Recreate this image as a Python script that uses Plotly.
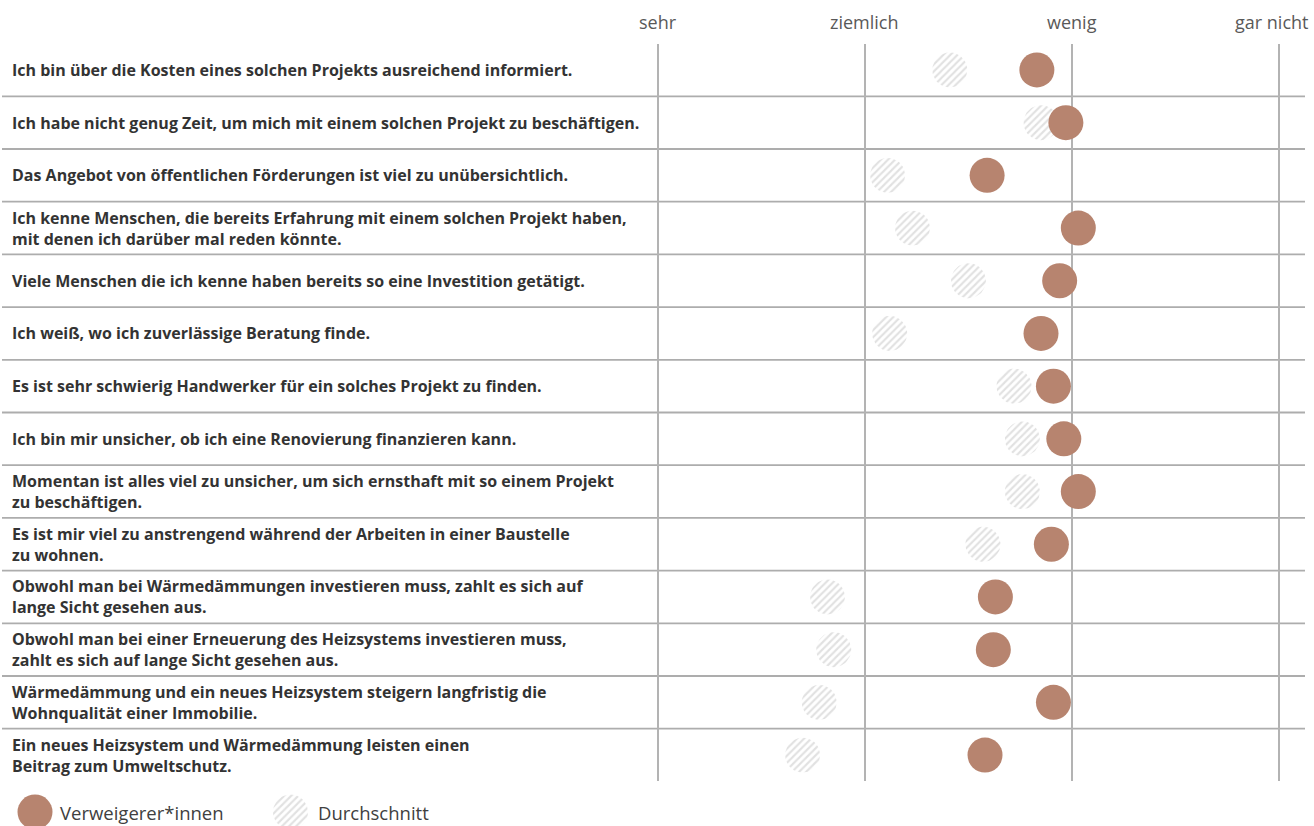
import math
import plotly.graph_objects as go

# ---------------- data ----------------
statements = [
    "Ich bin über die Kosten eines solchen Projekts ausreichend informiert.",
    "Ich habe nicht genug Zeit, um mich mit einem solchen Projekt zu beschäftigen.",
    "Das Angebot von öffentlichen Förderungen ist viel zu unübersichtlich.",
    "Ich kenne Menschen, die bereits Erfahrung mit einem solchen Projekt haben,<br>mit denen ich darüber mal reden könnte.",
    "Viele Menschen die ich kenne haben bereits so eine Investition getätigt.",
    "Ich weiß, wo ich zuverlässige Beratung finde.",
    "Es ist sehr schwierig Handwerker für ein solches Projekt zu finden.",
    "Ich bin mir unsicher, ob ich eine Renovierung finanzieren kann.",
    "Momentan ist alles viel zu unsicher, um sich ernsthaft mit so einem Projekt<br>zu beschäftigen.",
    "Es ist mir viel zu anstrengend während der Arbeiten in einer Baustelle<br>zu wohnen.",
    "Obwohl man bei Wärmedämmungen investieren muss, zahlt es sich auf<br>lange Sicht gesehen aus.",
    "Obwohl man bei einer Erneuerung des Heizsystems investieren muss,<br>zahlt es sich auf lange Sicht gesehen aus.",
    "Wärmedämmung und ein neues Heizsystem steigern langfristig die<br>Wohnqualität einer Immobilie.",
    "Ein neues Heizsystem und Wärmedämmung leisten einen<br>Beitrag zum Umweltschutz.",
]
verweigerer = [2.83, 2.97, 2.59, 3.03, 2.94, 2.85, 2.91, 2.96, 3.03, 2.90, 2.63, 2.62, 2.91, 2.58]
durchschnitt = [2.41, 2.85, 2.11, 2.23, 2.50, 2.12, 2.72, 2.76, 2.76, 2.57, 1.82, 1.85, 1.78, 1.70]
scale_vals = [1, 2, 3, 4]
scale_labels = ["sehr", "ziemlich", "wenig", "gar nicht"]
series_names = ["Verweigerer*innen", "Durchschnitt"]

# ---------------- styling ----------------
W, H = 1314, 826
BROWN = "#B7846F"
HATCH = "#c4c4c4"
GRID = "#b3b3b3"
FONT = "Open Sans"
PX_PER_UNIT = 207.3
X_SEHR_PX = 657.5
MARK_D = 35  # marker diameter in px
ROW_TOP_PX, ROW_BOTTOM_PX = 43.6, 781.4
LEG_Y_PX = 812
TICK_Y_PX = 22

n = len(statements)
rows = list(range(n))
x_left = scale_vals[0] - X_SEHR_PX / PX_PER_UNIT
x_right = x_left + W / PX_PER_UNIT
row_px = (ROW_BOTTOM_PX - ROW_TOP_PX) / n
rx = (MARK_D / 2) / PX_PER_UNIT
ry = (MARK_D / 2) / row_px

pattern = dict(shape="/", fgcolor=HATCH, bgcolor="white", size=5, solidity=0.42)
angles = [2 * math.pi * k / 60 for k in range(61)]


def circle_outlines(cx_list, cy_list, rx_, ry_):
    xs, ys = [], []
    for cx, cy in zip(cx_list, cy_list):
        xs += [cx + rx_ * math.cos(a) for a in angles] + [None]
        ys += [cy + ry_ * math.sin(a) for a in angles] + [None]
    return xs, ys


fig = go.Figure()

# hatched "Durchschnitt" discs
hx, hy = circle_outlines(durchschnitt, rows, rx, ry)
fig.add_trace(go.Scatter(
    x=hx, y=hy, mode="lines", fill="toself", fillcolor="white", fillpattern=pattern,
    line=dict(width=0), name=series_names[1],
    hoverinfo="skip", showlegend=False,
))

# brown "Verweigerer*innen" markers
fig.add_trace(go.Scatter(
    x=verweigerer, y=rows, mode="markers", name=series_names[0],
    marker=dict(size=MARK_D, color=BROWN, line=dict(width=0)),
    cliponaxis=False, showlegend=False, hoverinfo="skip",
))

# ---- custom legend on a helper axis (pixel units) ----
leg_x = [35, 290.5]
fig.add_trace(go.Scatter(
    x=[leg_x[0]], y=[0], mode="markers", xaxis="x2", yaxis="y2",
    marker=dict(size=MARK_D, color=BROWN, line=dict(width=0)),
    cliponaxis=False, showlegend=False, hoverinfo="skip",
))
lx, ly = circle_outlines([leg_x[1]], [0], MARK_D / 2, MARK_D / 2)
fig.add_trace(go.Scatter(
    x=lx, y=ly, mode="lines", fill="toself", fillcolor="white", fillpattern=pattern,
    line=dict(width=0), xaxis="x2", yaxis="y2",
    cliponaxis=False, hoverinfo="skip", showlegend=False,
))

annotations = []
# scale labels above the grid
for k, (v, lab) in enumerate(zip(scale_vals, scale_labels)):
    annotations.append(dict(
        x=v, xref="x", y=(H - TICK_Y_PX) / H, yref="paper", text=lab, showarrow=False,
        xanchor="center", yanchor="middle",
        xshift=-8 if k == len(scale_vals) - 1 else 0,
        font=dict(family=FONT, size=18, color="#595959"),
    ))
for i, s in enumerate(statements):
    annotations.append(dict(
        x=10 / W, xref="paper", y=i, yref="y", text=f"<b>{s}</b>", showarrow=False,
        xanchor="left", yanchor="middle", align="left",
        font=dict(family=FONT, size=16, color="#333333"),
    ))
for name, xpx in zip(series_names, [58, 316]):
    annotations.append(dict(
        x=xpx / W, xref="paper", y=(H - LEG_Y_PX) / H, yref="paper", text=name,
        showarrow=False, xanchor="left", yanchor="middle",
        font=dict(family=FONT, size=18.5, color="#404040"),
    ))

shapes = []
for i in range(n - 1):
    shapes.append(dict(type="line", xref="paper", x0=2 / W, x1=1305 / W, yref="y",
                       y0=i + 0.5, y1=i + 0.5, line=dict(color="#adadad", width=1.8),
                       layer="below"))

leg_bottom_px = 790
fig.update_layout(
    width=W, height=H, margin=dict(l=0, r=0, t=0, b=0),
    paper_bgcolor="white", plot_bgcolor="rgba(0,0,0,0)",
    showlegend=False,
    font=dict(family=FONT),
    xaxis=dict(range=[x_left, x_right], domain=[0, 1], side="top",
               tickvals=scale_vals, showticklabels=False,
               showgrid=True, gridcolor=GRID, gridwidth=1.6, zeroline=False,
               showline=False, ticks="", fixedrange=True),
    yaxis=dict(range=[n - 0.5, -0.5], domain=[(H - ROW_BOTTOM_PX) / H, (H - ROW_TOP_PX) / H],
               showgrid=False, zeroline=False, showticklabels=False, showline=False,
               fixedrange=True),
    xaxis2=dict(range=[0, W], domain=[0, 1], anchor="y2", visible=False, fixedrange=True),
    yaxis2=dict(range=[-(H - LEG_Y_PX), LEG_Y_PX - leg_bottom_px],
                domain=[0, (H - leg_bottom_px) / H], anchor="x2", visible=False,
                fixedrange=True),
    annotations=annotations, shapes=shapes,
    hovermode=False,
)

fig.write_html("out.html", config={"displayModeBar": False},
               post_script="document.body.style.margin='0';document.body.style.overflow='hidden';")
